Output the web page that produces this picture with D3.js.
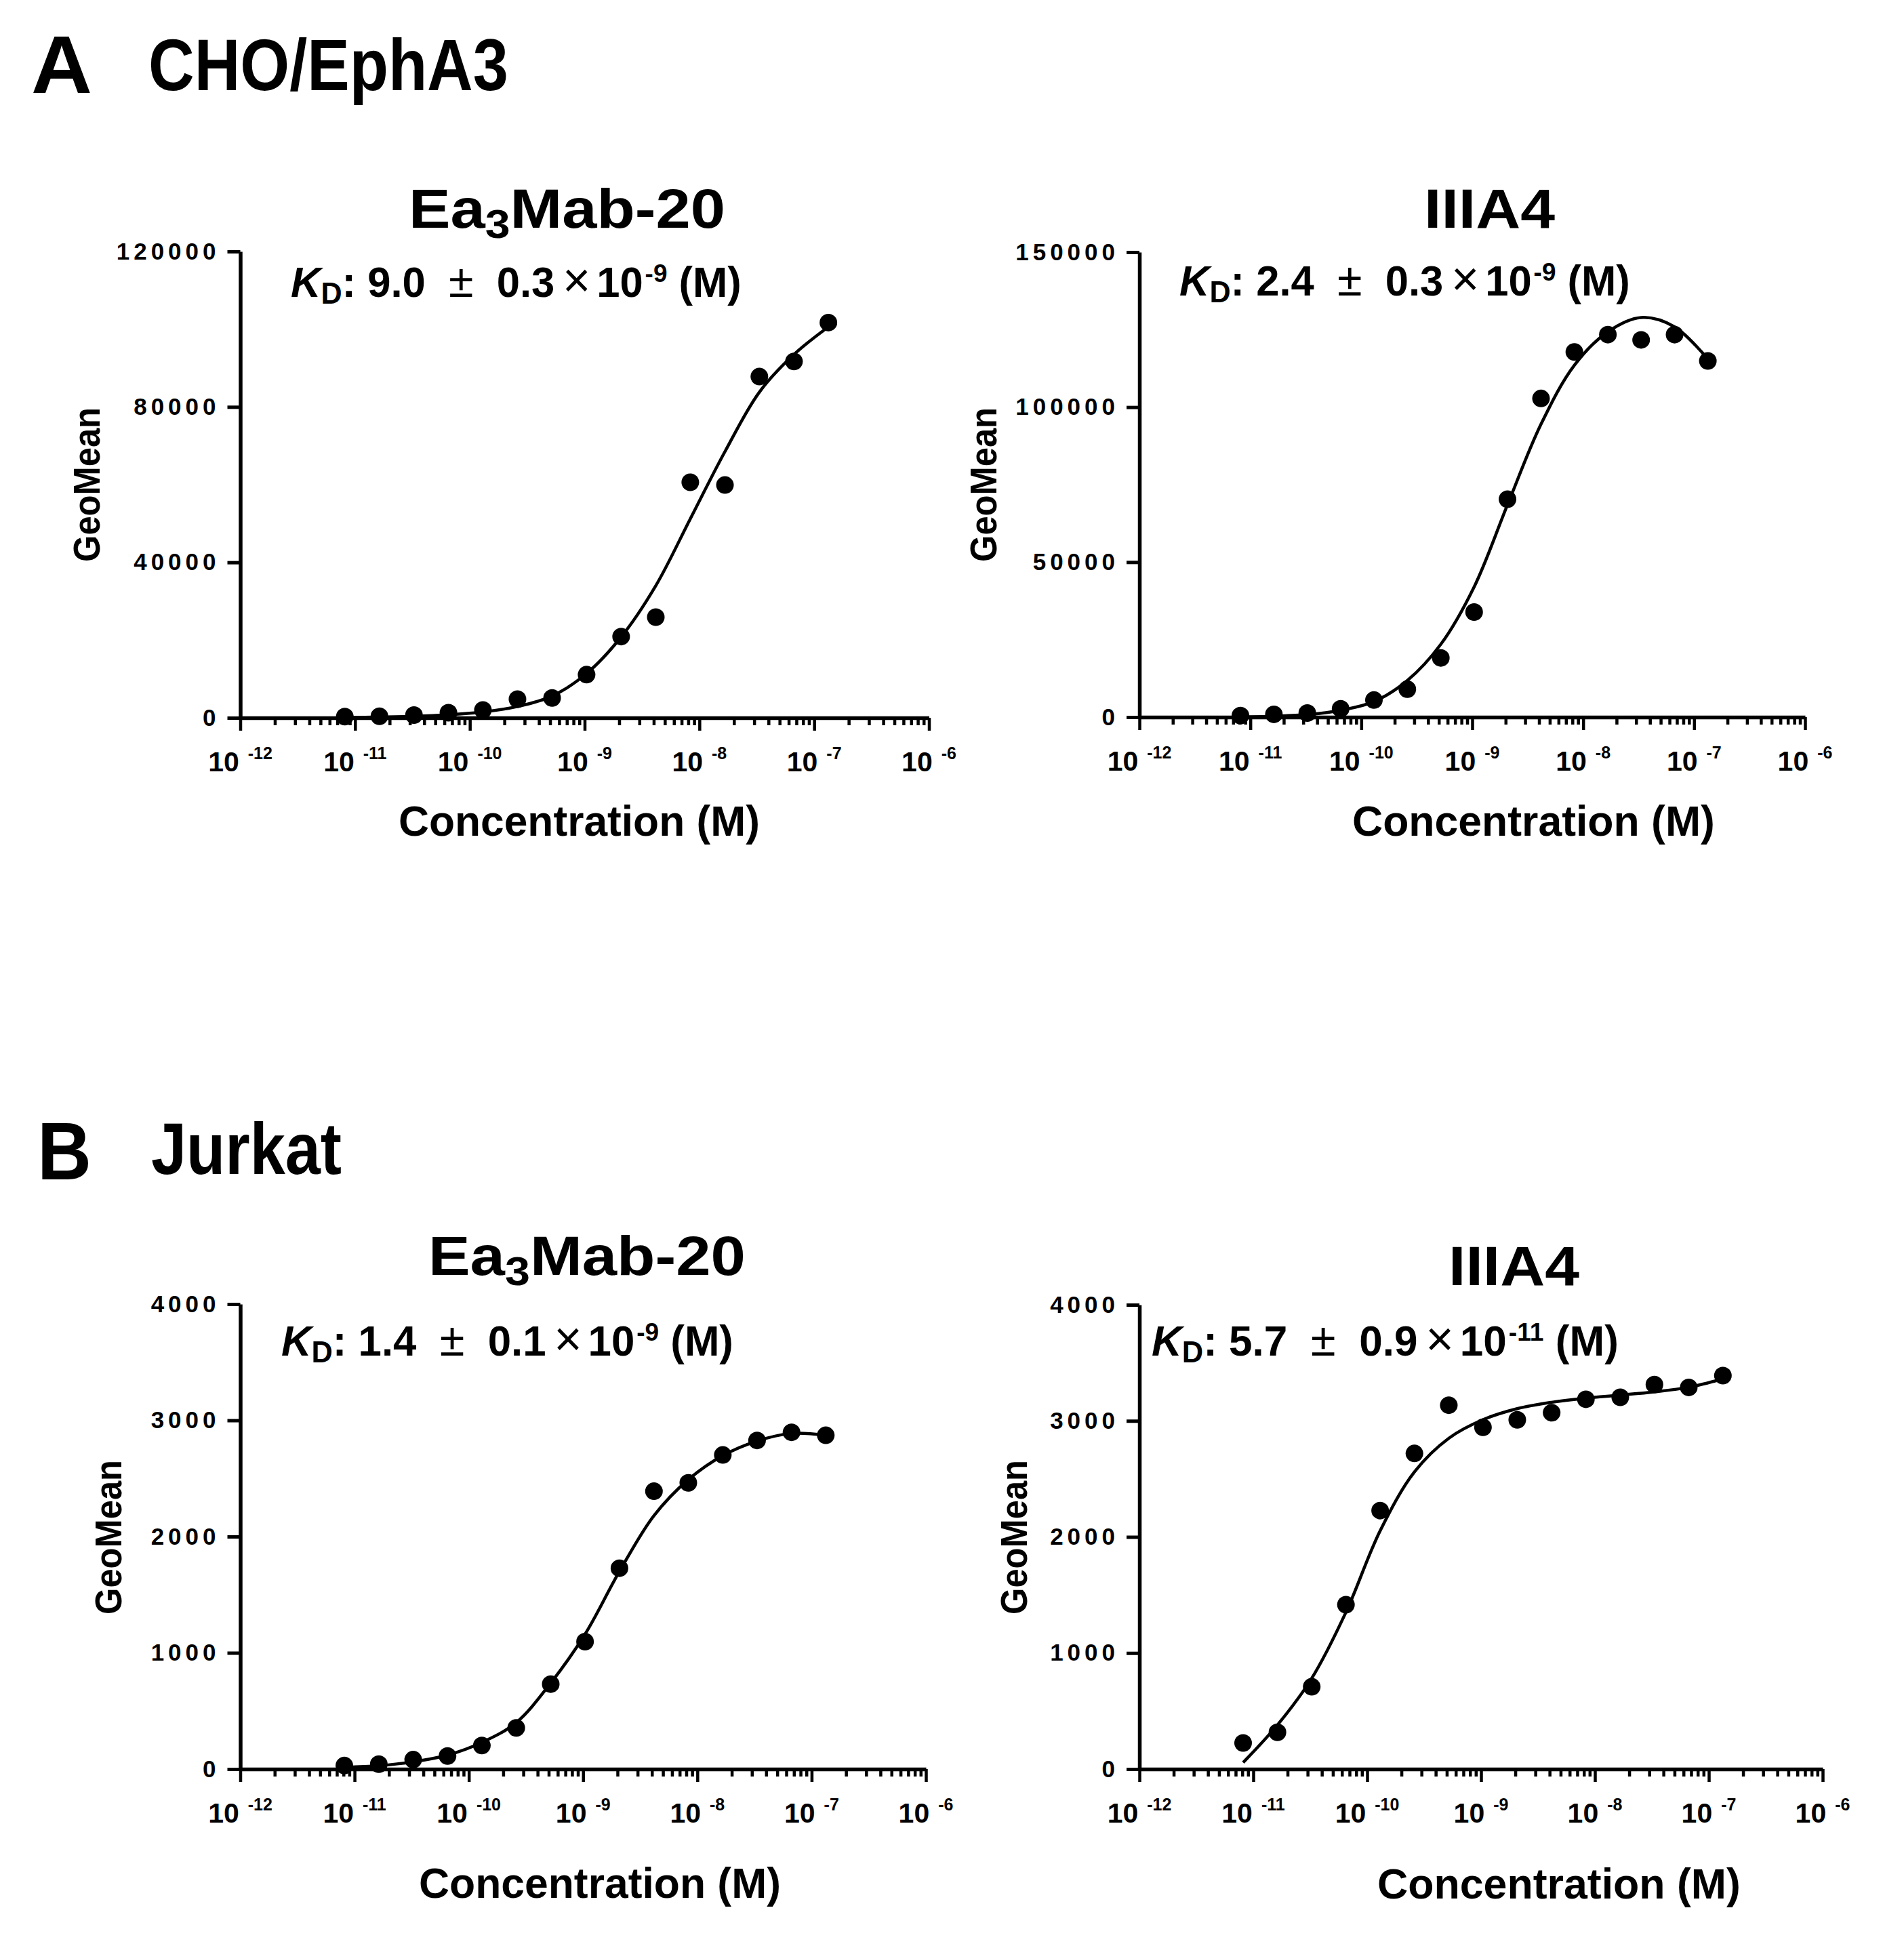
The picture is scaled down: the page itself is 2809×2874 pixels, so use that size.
<!DOCTYPE html>
<html>
<head>
<meta charset="utf-8">
<script src="https://cdn.jsdelivr.net/npm/d3@7"></script>
<style>
  body { margin: 0; background: #fff; }
  text { font-family: "Liberation Sans", Arial, sans-serif; font-weight: bold; fill: #000; white-space: pre; }
</style>
</head>
<body>
<div id="fig"></div>
<script>
// antibody concentration (M), 2-fold dilutions
const conc = [8.14e-12, 1.63e-11, 3.26e-11, 6.51e-11, 1.30e-10, 2.60e-10, 5.21e-10,
  1.04e-9, 2.08e-9, 4.17e-9, 8.33e-9, 1.67e-8, 3.33e-8, 6.67e-8, 1.33e-7];

// GeoMean, measured points
const choEa3 = [300, 400, 700, 1300, 2000, 4800, 5100, 11100, 20900, 25900, 60600, 59900, 87800, 91700, 101700];
const choIIIA4 = [500, 900, 1300, 2700, 5500, 9000, 19100, 33900, 70300, 102800, 117800, 123400, 121700, 123400, 114900];
const jurEa3 = [30, 42, 81, 112, 203, 354, 731, 1096, 1728, 2390, 2462, 2702, 2827, 2897, 2871];
const jurIIIA4 = [225, 317, 709, 1416, 2227, 2719, 3135, 2944, 3009, 3070, 3186, 3203, 3313, 3288, 3390];

// fitted curve at the same concentrations
const choEa3Fit = [100, 200, 400, 800, 1500, 2900, 5600, 11400, 20800, 34000, 51200, 68500, 83800, 93500, 100600];
const choIIIA4Fit = [100, 300, 800, 2200, 5000, 11800, 23500, 42000, 68500, 94500, 113500, 124300, 128900, 125900, 115500];
const jurEa3Fit = [15, 29, 62, 120, 229, 400, 740, 1160, 1700, 2180, 2490, 2697, 2822, 2887, 2871];
const jurIIIA4Fit = [56, 380, 782, 1351, 2053, 2560, 2850, 3010, 3105, 3160, 3196, 3222, 3250, 3290, 3361];

// axis ticks
const yTicksChoEa3 = [0, 40000, 80000, 120000];
const yTicksChoIIIA4 = [0, 50000, 100000, 150000];
const yTicksJurkat = [0, 1000, 2000, 3000, 4000];
const decades = [-12, -11, -10, -9, -8, -7, -6];

// KD labels: value, error, exponent
const kdChoEa3 = ['9.0', '0.3', '-9'];
const kdChoIIIA4 = ['2.4', '0.3', '-9'];
const kdJurEa3 = ['1.4', '0.1', '-9'];
const kdJurIIIA4 = ['5.7', '0.9', '-11'];

const W = 2809, H = 2874;
const svg = d3.select('#fig').append('svg').attr('width', W).attr('height', H);
svg.append('rect').attr('width', W).attr('height', H).attr('fill', '#fff');

// place a text and squeeze it horizontally to the width it has in the figure
function label(g, x, y, size, width, build, rotate) {
  const t = g.append('text').attr('font-size', size);
  if (rotate) t.attr('text-anchor', 'middle');
  build(t);
  const k = width / t.node().getBBox().width;
  t.attr('transform', `translate(${x},${y})` + (rotate ? ' rotate(-90)' : '') + ` scale(${k},1)`);
  return t;
}

function plain(s) { return t => t.text(s); }

function antibody(name) {
  if (name === 'IIIA4') return plain('IIIA4');
  return t => {
    t.append('tspan').text('Ea');
    t.append('tspan').text('3').attr('font-size', '0.72em').attr('dy', 15);
    t.append('tspan').text('Mab-20').attr('dy', -15);
  };
}

function kdLabel(kd) {
  return t => {
    t.append('tspan').text('K').attr('font-style', 'italic');
    t.append('tspan').text('D').attr('font-size', '0.7em').attr('dy', 10);
    t.append('tspan').text(`: ${kd[0]}  `).attr('dy', -10);
    t.append('tspan').text('±').attr('font-weight', 'normal').attr('font-size', '1.08em');
    t.append('tspan').text(`  ${kd[1]}`);
    t.append('tspan').text('×').attr('font-weight', 'normal').attr('font-size', '1.15em').attr('dx', 12);
    t.append('tspan').text('10').attr('dx', 9);
    t.append('tspan').text(kd[2]).attr('font-size', '0.6em').attr('dy', -22).attr('dx', 3);
    t.append('tspan').text(' (M)').attr('dy', 22);
  };
}

const panels = [
  { name: 'Ea3', pts: choEa3, fit: choEa3Fit, yMax: 120000, yTicks: yTicksChoEa3, kd: kdChoEa3,
    ox: 354.5, x1: 1370.5, top: 371, base: 1059,
    title: [603, 336, 467], kdPos: [429, 438, 665], yLab: [147, 715], xLab: [588, 1233, 533] },
  { name: 'IIIA4', pts: choIIIA4, fit: choIIIA4Fit, yMax: 150000, yTicks: yTicksChoIIIA4, kd: kdChoIIIA4,
    ox: 1681, x1: 2663, top: 372, base: 1058,
    title: [2101, 336, 193], kdPos: [1740, 436, 665], yLab: [1470, 715], xLab: [1995, 1233, 535] },
  { name: 'Ea3', pts: jurEa3, fit: jurEa3Fit, yMax: 4000, yTicks: yTicksJurkat, kd: kdJurEa3,
    ox: 354.5, x1: 1366, top: 1924, base: 2610,
    title: [632, 1881, 468], kdPos: [415, 2000, 667], yLab: [179, 2268], xLab: [618, 2800, 534] },
  { name: 'IIIA4', pts: jurIIIA4, fit: jurIIIA4Fit, yMax: 4000, yTicks: yTicksJurkat, kd: kdJurIIIA4,
    ox: 1681, x1: 2689, top: 1925, base: 2610,
    title: [2137, 1896, 193], kdPos: [1699, 2000, 689], yLab: [1515, 2268], xLab: [2032, 2801, 536] }
];

// minor ticks 2..9 in every decade, majors at the powers of ten
const minorTicks = [];
decades.slice(0, -1).forEach(p => d3.range(2, 10).forEach(m => minorTicks.push(m * Math.pow(10, p))));
const majorTicks = decades.map(p => Math.pow(10, p));

panels.forEach(p => {
  const g = svg.append('g');
  const x = d3.scaleLog().domain([1e-12, 1e-6]).range([p.ox, p.x1]);
  const y = d3.scaleLinear().domain([0, p.yMax]).range([p.base, p.top]);

  // y axis
  const ya = g.append('g').attr('transform', `translate(${p.ox},0)`)
    .call(d3.axisLeft(y).tickValues(p.yTicks).tickSize(19).tickSizeOuter(0).tickPadding(11).tickFormat(d3.format('d')));
  ya.select('.domain').attr('stroke-width', 5.5);
  ya.selectAll('.tick line').attr('stroke-width', 5);
  ya.selectAll('.tick text').attr('font-size', 35).attr('letter-spacing', 6)
    .attr('font-family', '"Liberation Sans", Arial, sans-serif');

  // x axis, log scale
  const xa = g.append('g').attr('transform', `translate(0,${p.base})`)
    .call(d3.axisBottom(x).tickValues(minorTicks.concat(majorTicks)).tickSize(11).tickSizeOuter(0).tickFormat(''));
  xa.select('.domain').attr('stroke-width', 5.5);
  xa.selectAll('.tick line').attr('stroke-width', 4.5)
    .attr('y2', d => majorTicks.includes(d) ? 19 : 11);

  decades.forEach(e => {
    const t = g.append('text').attr('text-anchor', 'middle')
      .attr('x', x(Math.pow(10, e))).attr('y', p.base + 79).attr('font-size', 41);
    t.append('tspan').text('10');
    t.append('tspan').text(String(e)).attr('font-size', 25).attr('dx', 13).attr('dy', -18);
  });

  // fitted curve and points
  const line = d3.line().x(d => x(d[0])).y(d => y(d[1])).curve(d3.curveCatmullRom.alpha(0.5));
  g.append('path').datum(conc.map((c, i) => [c, p.fit[i]]))
    .attr('d', line).attr('fill', 'none').attr('stroke', '#000').attr('stroke-width', 4.5);
  g.selectAll('circle').data(conc.map((c, i) => [c, p.pts[i]])).join('circle')
    .attr('cx', d => x(d[0])).attr('cy', d => y(d[1])).attr('r', 13).attr('fill', '#000');

  // texts
  label(g, p.title[0], p.title[1], 81, p.title[2], antibody(p.name));
  label(g, p.kdPos[0], p.kdPos[1], 63, p.kdPos[2], kdLabel(p.kd));
  label(g, p.yLab[0], p.yLab[1], 55, 228, plain('GeoMean'), true);
  label(g, p.xLab[0], p.xLab[1], 63, p.xLab[2], plain('Concentration (M)'));
});

// panel letters and cell lines
label(svg, 46, 137, 121, 90, plain('A'));
label(svg, 219, 133, 107, 531, plain('CHO/EphA3'));
label(svg, 55, 1740, 121, 80, plain('B'));
label(svg, 223, 1732, 107, 281, plain('Jurkat'));
</script>
</body>
</html>
